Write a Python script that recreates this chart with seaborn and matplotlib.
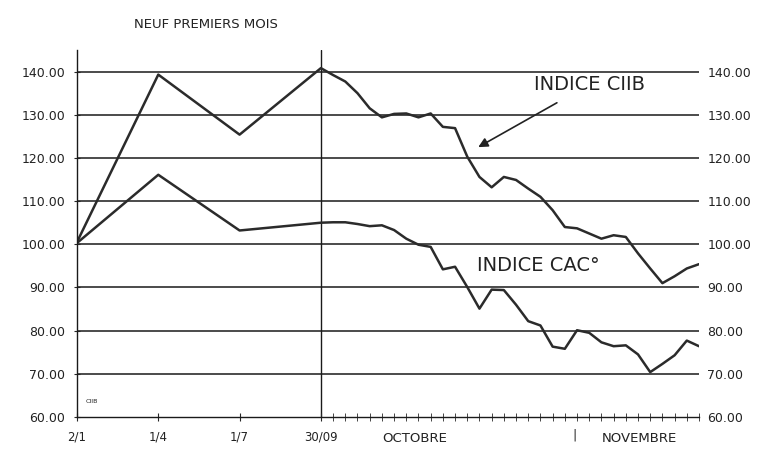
import numpy as np
import pandas as pd
import seaborn as sns
import matplotlib.pyplot as plt

# Nine first months (start of year -> 30/09), base 100
month_labels = ['2/1', '1/4', '1/7', '30/09']
ciib_months = [100.5, 139.3, 125.4, 140.8]
cac_months = [100.3, 116.1, 103.2, 105.0]

# Daily values after 30/09 (October + November sessions)
ciib_daily = [139.2, 137.7, 135.0, 131.5, 129.4, 130.2, 130.3, 129.4, 130.3, 127.2,
              126.9, 120.3, 115.6, 113.2, 115.6, 114.9, 112.9, 111.0, 107.9, 104.0,
              103.7, 102.5, 101.3, 102.1, 101.7, 97.9, 94.4, 91.0, 92.6, 94.4, 95.4]
cac_daily = [105.1, 105.1, 104.7, 104.2, 104.4, 103.3, 101.3, 99.9, 99.4, 94.2,
             94.8, 90.1, 85.1, 89.5, 89.4, 86.0, 82.2, 81.2, 76.3, 75.8,
             80.1, 79.5, 77.3, 76.4, 76.6, 74.5, 70.4, 72.3, 74.3, 77.7, 76.4]

y_ticks = [60, 70, 80, 90, 100, 110, 120, 130, 140]

# x scale: each month step is drawn as wide as 20/3 daily sessions
month_step = 20 / 3
x_months = [i * month_step for i in range(len(month_labels))]
x_days = [x_months[-1] + i + 1 for i in range(len(ciib_daily))]

df = pd.concat([
    pd.DataFrame({'x': x_months + x_days, 'val': ciib_months + ciib_daily, 'serie': 'CIIB'}),
    pd.DataFrame({'x': x_months + x_days, 'val': cac_months + cac_daily, 'serie': 'CAC'}),
])

sns.set_style('white')
plt.rcParams['font.family'] = ['DejaVu Sans']

fig = plt.figure(figsize=(7.79, 4.5), dpi=100)
ax = fig.add_axes([0.0988, 0.0733, 0.7985, 0.8156])

sns.lineplot(data=df, x='x', y='val', units='serie', estimator=None,
             color='#2b2b2b', linewidth=1.8, ax=ax, legend=False)

ax.set_xlim(0, x_days[-1])
ax.set_ylim(60, 145)

# horizontal grid and separating vertical line
for y in y_ticks[1:]:
    ax.axhline(y, color='#1a1a1a', linewidth=1.1, zorder=0)
ax.axvline(x_months[-1], color='#1a1a1a', linewidth=1.0, zorder=0)

for s in ['top', 'right']:
    ax.spines[s].set_visible(False)
for s in ['left', 'bottom']:
    ax.spines[s].set_color('#1a1a1a')
    ax.spines[s].set_linewidth(1.0)

ax.set_yticks(y_ticks)
ax.set_yticklabels([f'{v:.2f}' for v in y_ticks], fontsize=9, color='#222222')
ax.tick_params(axis='y', direction='inout', length=5, pad=6, left=True)

ax.set_xticks(x_months)
ax.set_xticklabels(month_labels, fontsize=8.5, color='#222222')
ax.set_xticks(x_days, minor=True)
ax.tick_params(axis='x', which='both', direction='inout', length=6, pad=7, bottom=True)
ax.set_xlabel('')
ax.set_ylabel('')

ax2 = ax.twinx()
ax2.set_ylim(ax.get_ylim())
ax2.set_yticks(y_ticks)
ax2.set_yticklabels([f'{v:.2f}' for v in y_ticks], fontsize=9, color='#222222')
ax2.tick_params(axis='y', length=0, pad=6)
for s in ax2.spines.values():
    s.set_visible(False)

# month names under the daily part
ax.text(27.7, -0.042, 'OCTOBRE', transform=ax.get_xaxis_transform(),
        ha='center', va='top', fontsize=9.5, color='#222222')
ax.text(46.1, -0.042, 'NOVEMBRE', transform=ax.get_xaxis_transform(),
        ha='center', va='top', fontsize=9.5, color='#222222')
ax.text(40.8, -0.03, '|', transform=ax.get_xaxis_transform(),
        ha='center', va='top', fontsize=9, color='#222222')

fig.text(0.265, 0.945, 'NEUF PREMIERS MOIS', ha='center', va='center',
         fontsize=9.5, color='#222222')

ax.annotate('INDICE CIIB', xy=(32.9, 122.5), xytext=(42.0, 137.0),
            ha='center', va='center', fontsize=14, color='#222222',
            arrowprops=dict(arrowstyle='-|>', color='#222222', lw=1.2,
                            mutation_scale=14, shrinkA=8, shrinkB=0))
ax.text(37.8, 95.2, 'INDICE CAC°', ha='center', va='center', fontsize=14, color='#222222')
ax.text(1.2, 63.6, 'CIIB', ha='center', va='center', fontsize=4.5, color='#222222')

plt.savefig('out.png', dpi=100)
